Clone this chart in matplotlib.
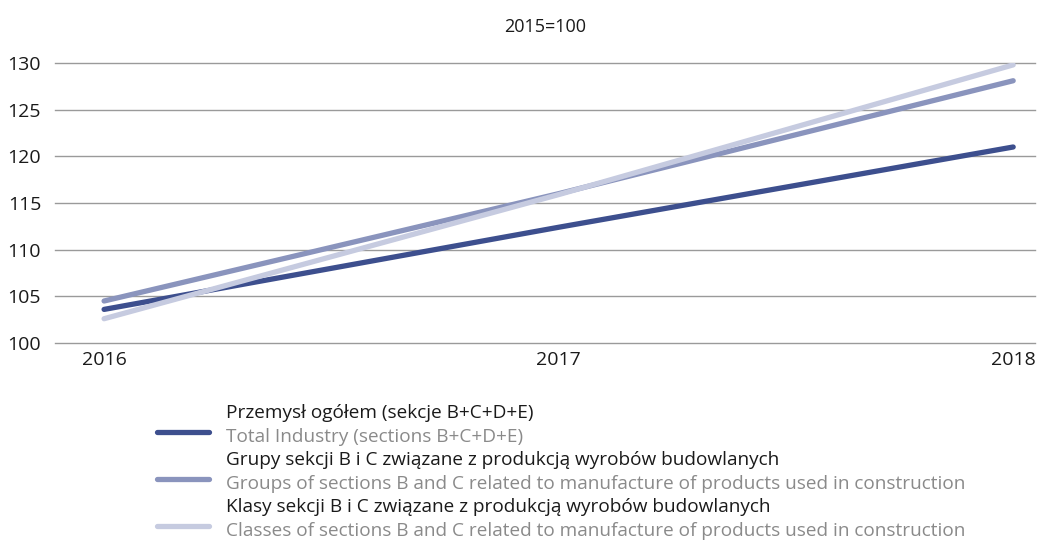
import matplotlib
matplotlib.use("Agg")
import matplotlib.pyplot as plt
from matplotlib.lines import Line2D

plt.rcParams['font.family'] = ['Open Sans', 'DejaVu Sans']

years = ['2016', '2017', '2018']
total = [103.6, 112.4, 121.0]
groups = [104.5, 116.0, 128.1]
classes = [102.6, 115.9, 129.8]

labels_pl = ['Przemysł ogółem (sekcje B+C+D+E)',
             'Grupy sekcji B i C związane z produkcją wyrobów budowlanych',
             'Klasy sekcji B i C związane z produkcją wyrobów budowlanych']
labels_en = ['Total Industry (sections B+C+D+E)',
             'Groups of sections B and C related to manufacture of products used in construction',
             'Classes of sections B and C related to manufacture of products used in construction']
colors = ['#3d4f8e', '#8a94bd', '#c6cbe0']

W, H = 1048, 554
fig = plt.figure(figsize=(W / 100, H / 100), dpi=100)
ax = fig.add_axes([55 / W, 1 - 343 / H, (1035 - 55) / W, (343 - 63) / H])

x = list(range(len(years)))
# draw order: groups, total, classes (light line on top like the reference)
ax.plot(x, groups, color=colors[1], lw=3.8, solid_capstyle='round', zorder=3)
ax.plot(x, total, color=colors[0], lw=3.8, solid_capstyle='round', zorder=4)
ax.plot(x, classes, color=colors[2], lw=3.8, solid_capstyle='round', zorder=5)

ax.set_ylim(100, 130)
ax.set_yticks(range(100, 131, 5))
ax.set_xlim(-0.108, 2.048)
ax.set_xticks(x)
ax.set_xticklabels(years)
ax.grid(axis='y', color='#9a9a9a', lw=1)
for gl in ax.get_ygridlines():
    gl.set_clip_on(False)
ax.set_axisbelow(True)
for s in ax.spines.values():
    s.set_visible(False)
ax.tick_params(length=0, labelsize=14, colors='#1a1a1a', pad=10)
ax.tick_params(axis='x', pad=6)

fig.text(545 / W, 1 - 27 / H, '2015=100', ha='center', va='center', fontsize=13, color='#1a1a1a')

# manual legend with two-line labels
fs = 13.7
rows = [432, 479, 526]
for r, c, pl, en in zip(rows, colors, labels_pl, labels_en):
    fig.add_artist(Line2D([157 / W, 209 / W], [1 - r / H, 1 - r / H], color=c, lw=3.8,
                          solid_capstyle='round', transform=fig.transFigure))
    fig.text(226 / W, 1 - (r - 19) / H, pl, ha='left', va='center', fontsize=fs, color='#1a1a1a')
    fig.text(226 / W, 1 - (r + 5) / H, en, ha='left', va='center', fontsize=fs, color='#8a8a8a')

fig.savefig('out.png', dpi=100)
